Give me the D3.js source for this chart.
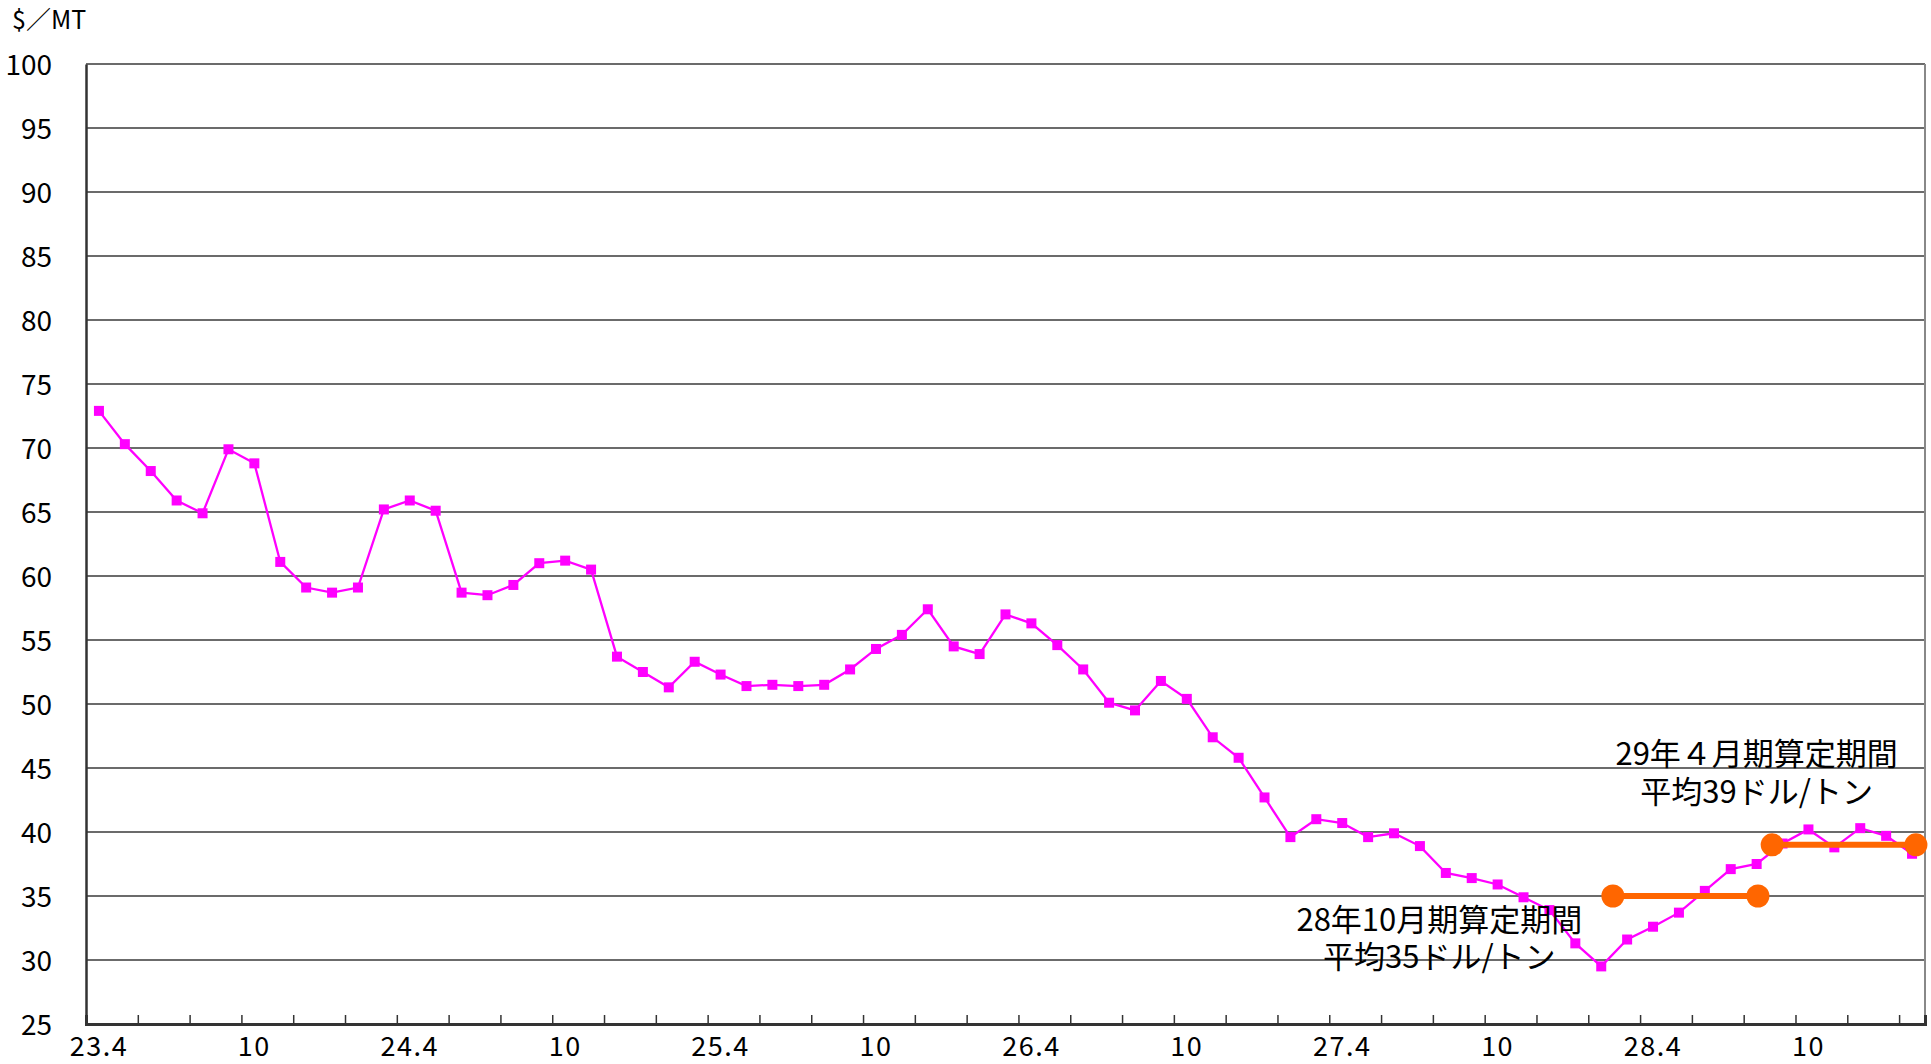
<!DOCTYPE html>
<html>
<head>
<meta charset="utf-8">
<script src="https://cdn.jsdelivr.net/npm/d3@7"></script>
<style>
  html, body { margin: 0; padding: 0; background: #fff; }
  text { font-family: "Noto Sans CJK JP", "Noto Sans", sans-serif; fill: #000; }
  .num { font-family: "Liberation Sans Narrow", "Noto Sans CJK JP", sans-serif; }
</style>
</head>
<body>
<svg id="chart" width="1931" height="1064"></svg>
<script>
// monthly price, H23.4 .. H29.2 ($/MT)
var prices = [
  72.9, 70.3, 68.2, 65.9, 64.9, 69.9, 68.8, 61.1, 59.1, 58.7, 59.1, 65.2,
  65.9, 65.1, 58.7, 58.5, 59.3, 61.0, 61.2, 60.5, 53.7, 52.5, 51.3, 53.3,
  52.3, 51.4, 51.5, 51.4, 51.5, 52.7, 54.3, 55.4, 57.4, 54.5, 53.9, 57.0,
  56.3, 54.6, 52.7, 50.1, 49.5, 51.8, 50.4, 47.4, 45.8, 42.7, 39.6, 41.0,
  40.7, 39.6, 39.9, 38.9, 36.8, 36.4, 35.9, 34.9, 33.9, 31.3, 29.5, 31.6,
  32.6, 33.7, 35.4, 37.1, 37.5, 39.1, 40.2, 38.8, 40.3, 39.7, 38.3
];

// month index 0 = H23.4
var tickLabels = ['23.4', '10', '24.4', '10', '25.4', '10', '26.4', '10', '27.4', '10', '28.4', '10'];

// averaging periods (month-index span) and their average
var periodStart = [58.45, 64.6];
var periodEnd = [64.05, 70.15];
var periodAvg = [35, 39];

var periodNotes = [
  ['28年10月期算定期間', '平均35ドル/トン'],
  ['29年４月期算定期間', '平均39ドル/トン']
];

var yTicks = d3.range(25, 101, 5);

var svg = d3.select('#chart');
var m = { left: 86, right: 1925, top: 64, bottom: 1024 };

var x = d3.scaleLinear().domain([-0.5, prices.length - 0.5]).range([m.left, m.right]);
var y = d3.scaleLinear().domain([25, 100]).range([m.bottom, m.top]);

// grid
svg.append('g')
  .selectAll('line')
  .data(yTicks.slice(1))
  .enter().append('line')
  .attr('x1', m.left).attr('x2', m.right)
  .attr('y1', d => y(d)).attr('y2', d => y(d))
  .attr('stroke', '#3a3a3a').attr('stroke-width', 1.3);

// right frame
svg.append('line')
  .attr('x1', m.right).attr('x2', m.right)
  .attr('y1', m.top).attr('y2', m.bottom)
  .attr('stroke', '#888').attr('stroke-width', 2);

// y axis
var yAxis = svg.append('g')
  .attr('transform', `translate(${m.left},0)`)
  .call(d3.axisLeft(y).tickValues(yTicks).tickSize(0).tickPadding(34));
yAxis.select('.domain').attr('stroke', '#333').attr('stroke-width', 2.5);
yAxis.selectAll('text')
  .attr('class', 'num')
  .style('font-size', '28px')
  .attr('dy', '0.36em');

// x axis: tick marks every two months, pointing up
var boundaries = d3.range(1.5, prices.length - 0.5, 2);
var xAxis = svg.append('g')
  .attr('transform', `translate(0,${m.bottom})`)
  .call(d3.axisBottom(x).tickValues(boundaries).tickSize(-9).tickFormat(''));
xAxis.select('.domain').attr('stroke', '#333').attr('stroke-width', 3);
xAxis.selectAll('.tick line').attr('stroke', '#333').attr('stroke-width', 1.5);

svg.append('g')
  .selectAll('text')
  .data(tickLabels)
  .enter().append('text')
  .attr('class', 'num')
  .attr('x', (d, i) => x(i * 6))
  .attr('y', m.bottom + 32)
  .attr('text-anchor', 'middle')
  .style('font-size', '27px')
  .style('letter-spacing', '1.5px')
  .text(d => d);

// unit
svg.append('text')
  .attr('x', 12).attr('y', 29)
  .style('font-size', '25px')
  .text('$／MT');

// price line
var line = d3.line().x((d, i) => x(i)).y(d => y(d));
svg.append('path')
  .datum(prices)
  .attr('d', line)
  .attr('fill', 'none')
  .attr('stroke', '#ff00ff')
  .attr('stroke-width', 2.3);

svg.append('g')
  .selectAll('rect')
  .data(prices)
  .enter().append('rect')
  .attr('x', (d, i) => x(i) - 5)
  .attr('y', d => y(d) - 5)
  .attr('width', 10).attr('height', 10)
  .attr('fill', '#ff00ff');

// averaging periods
var periods = periodAvg.map((v, i) => ({ from: periodStart[i], to: periodEnd[i], value: v }));
var pg = svg.append('g');
pg.selectAll('line')
  .data(periods)
  .enter().append('line')
  .attr('x1', d => x(d.from)).attr('x2', d => x(d.to))
  .attr('y1', d => y(d.value)).attr('y2', d => y(d.value))
  .attr('stroke', '#ff6600').attr('stroke-width', 6);
periods.forEach(function(p) {
  pg.selectAll(null)
    .data([p.from, p.to])
    .enter().append('circle')
    .attr('cx', d => x(d))
    .attr('cy', y(p.value))
    .attr('r', 11.5)
    .attr('fill', '#ff6600');
});

// notes
var notePos = [[51.75, 32.3], [64.0, 45.2]];
periodNotes.forEach(function(lines, i) {
  svg.append('text')
    .attr('x', x(notePos[i][0]))
    .attr('y', y(notePos[i][1]))
    .attr('text-anchor', 'middle')
    .style('font-size', '31px')
    .selectAll('tspan')
    .data(lines)
    .enter().append('tspan')
    .attr('x', x(notePos[i][0]))
    .attr('dy', (d, j) => j ? '1.2em' : 0)
    .text(d => d);
});
</script>
</body>
</html>
